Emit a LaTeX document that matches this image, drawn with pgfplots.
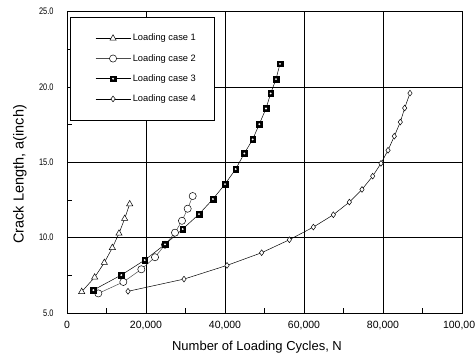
\documentclass[border=0pt]{standalone}
\usepackage{fontspec}
\setmainfont{Liberation Sans}
\newfontfamily\tickfont[FakeStretch=0.78]{Liberation Sans}
\usepackage{pgfplots}
\pgfplotsset{compat=1.18}
\pgfdeclareplotmark{sqdot}{%
  \pgfsetfillcolor{black}%
  \pgfpathrectangle{\pgfpoint{-\pgfplotmarksize}{-\pgfplotmarksize}}{\pgfpoint{2\pgfplotmarksize}{2\pgfplotmarksize}}%
  \pgfusepathqfillstroke
  \pgfsetfillcolor{white}%
  \pgfpathcircle{\pgfpointorigin}{0.38\pgfplotmarksize}%
  \pgfusepathqfill
  \pgfsetfillcolor{black}%
}
\begin{document}
\begin{tikzpicture}
\begin{axis}[
  scale only axis,
  width=395bp, height=301.4bp,
  xmin=0, xmax=100000, ymin=5, ymax=25,
  xtick={0,20000,40000,60000,80000,100000},
  ytick={5,10,15,20,25},
  minor xtick={10000,30000,50000,70000,90000},
  minor ytick={7.5,12.5,17.5,22.5},
  grid=major,
  major grid style={black, line width=0.6pt},
  axis line style={black, line width=0.6pt},
  tick align=inside,
  major tick length=0pt,
  minor tick length=5bp,
  minor tick style={black, line width=0.6pt},
  xtick pos=bottom, ytick pos=left,
  scaled x ticks=false,
  /pgf/number format/assume math mode=true,
  xticklabel style={/pgf/number format/.cd, fixed, 1000 sep={,}, /tikz/.cd, font=\fontsize{10.5bp}{12bp}\selectfont, yshift=-5bp},
  yticklabel style={/pgf/number format/.cd, fixed, fixed zerofill, precision=1, /tikz/.cd, font=\tickfont\fontsize{9.5bp}{11bp}\selectfont, xshift=-10bp},
  xlabel={Number of Loading Cycles, N},
  ylabel={Crack Length, a(inch)},
  xlabel style={at={(rel axis cs:0.481,-0.113)}, anchor=center, font=\fontsize{13bp}{15bp}\selectfont},
  ylabel style={at={(rel axis cs:-0.119,0.46)}, anchor=center, font=\fontsize{14.5bp}{16bp}\selectfont},
  legend style={at={(rel axis cs:0.0076,0.982)}, anchor=north west, draw=black, line width=0.6pt,
    inner xsep=16bp, inner ysep=14.5bp, row sep=7.2bp,
    font=\fontsize{9.3bp}{11bp}\selectfont,
    nodes={text height=7bp, text depth=2bp, inner sep=2bp}},
  legend cell align=left,
  legend image code/.code={\path (-9bp,0bp) (35bp,0bp); \draw[mark repeat=2, mark phase=2] plot coordinates {(0bp,0bp) (17.5bp,0bp) (35bp,0bp)};},
]
\addplot[black, line width=0.5pt, mark=triangle*, mark size=3.6bp, mark options={fill=white, line width=0.5pt}] coordinates {
(3720,6.41) (7000,7.37) (9450,8.34) (11480,9.33) (13160,10.28) (14600,11.26) (15870,12.23)
};
\addlegendentry{Loading case 1}
\addplot[black!70, line width=0.5pt, mark=*, mark size=3.6bp, mark options={draw=black, fill=white, line width=0.5pt}] coordinates {
(7930,6.30) (14260,7.06) (18820,7.90) (22280,8.70) (24810,9.53) (27340,10.33) (29110,11.12) (30550,11.92) (31820,12.76)
};
\addlegendentry{Loading case 2}
\addplot[black, line width=0.5pt, mark=sqdot, mark size=2.8bp, mark options={line width=0.5pt}] coordinates {
(6670,6.52) (13750,7.52) (19670,8.51) (24810,9.55) (29290,10.57) (33420,11.56) (36960,12.56) (40000,13.55) (42710,14.55) (44890,15.59) (47010,16.52) (48680,17.53) (50380,18.57) (51560,19.57) (52910,20.52) (53920,21.53)
};
\addlegendentry{Loading case 3}
\addplot[black, line width=0.5pt, mark=diamond*, mark size=2.9bp, mark options={fill=white, line width=0.5pt}] coordinates {
(15440,6.44) (29620,7.25) (40510,8.16) (49280,9.00) (56290,9.86) (62370,10.70) (67430,11.52) (71480,12.36) (74680,13.20) (77390,14.08) (79490,14.93) (81270,15.80) (82860,16.73) (84380,17.67) (85490,18.60) (86830,19.59)
};
\addlegendentry{Loading case 4}
\end{axis}
\pgfresetboundingbox
\useasboundingbox ([shift={(-67bp,-43bp)}]current axis.south west) rectangle ([shift={(13bp,11.6bp)}]current axis.north east);
\end{tikzpicture}
\end{document}
